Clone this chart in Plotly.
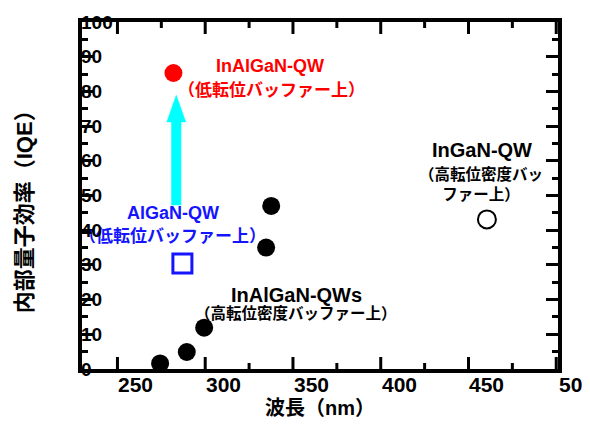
import plotly.graph_objects as go

# ---- data ----
inalgan_high_x = [263.8, 279.0, 288.9, 324.2, 327.1]
inalgan_high_y = [1.6, 4.9, 11.9, 35.0, 47.0]
inalgan_low_x = [271.4]
inalgan_low_y = [85.3]
algan_low_x = [276.5]
algan_low_y = [30.4]
ingan_x = [450.0]
ingan_y = [43.1]

arrow_x = 273.0
arrow_y_start = 47.2
arrow_y_head = 71.2
arrow_y_tip = 78.9

x_tick_vals = [250, 300, 350, 400, 450, 500]
x_tick_text = ["250", "300", "350", "400", "450", "50"]
x_tick_marks = [239.5, 289.5, 339.5, 389.5, 439.5, 489.5]
x_minor_marks = [264.5, 314.5, 364.5, 414.5, 464.5]
y_tick_vals = [0, 10, 20, 30, 40, 50, 60, 70, 80, 90, 100]
y_tick_text = [str(v) for v in y_tick_vals]

x_range = [219.3, 490.5]
y_range = [0, 100]

FONT = "Liberation Sans, Arial, Noto Sans CJK JP, sans-serif"
BLUE = "#1414ff"
RED = "#ff0000"
CYAN = "#00ffff"

W, H = 590, 426
M = dict(l=82, r=32, t=22, b=57)
PLOT_H = H - M["t"] - M["b"]

fig = go.Figure()

# arrow: shaft + head
head_half = 5.4
fig.add_trace(go.Scatter(x=[arrow_x, arrow_x], y=[arrow_y_start, arrow_y_head + 0.5],
                         mode="lines", line=dict(color=CYAN, width=10),
                         hoverinfo="skip", showlegend=False))
fig.add_trace(go.Scatter(x=[arrow_x - head_half, arrow_x + head_half, arrow_x, arrow_x - head_half],
                         y=[arrow_y_head, arrow_y_head, arrow_y_tip, arrow_y_head],
                         mode="lines", fill="toself", fillcolor=CYAN,
                         line=dict(color=CYAN, width=0.5),
                         hoverinfo="skip", showlegend=False))

fig.add_trace(go.Scatter(x=inalgan_high_x, y=inalgan_high_y, mode="markers",
                         marker=dict(symbol="circle", size=18, color="black"),
                         showlegend=False))
fig.add_trace(go.Scatter(x=inalgan_low_x, y=inalgan_low_y, mode="markers",
                         marker=dict(symbol="circle", size=18, color=RED),
                         showlegend=False))
fig.add_trace(go.Scatter(x=algan_low_x, y=algan_low_y, mode="markers",
                         marker=dict(symbol="square-open", size=19, color=BLUE,
                                     line=dict(width=3, color=BLUE)),
                         showlegend=False))
fig.add_trace(go.Scatter(x=ingan_x, y=ingan_y, mode="markers",
                         marker=dict(symbol="circle-open", size=18, color="black",
                                     line=dict(width=2, color="black")),
                         showlegend=False))

annotations = [
    dict(x=326.5, y=87.2, text="InAlGaN-QW", font=dict(size=18, color=RED)),
    dict(x=327.3, y=80.3, text="（低転位バッファー上）", font=dict(size=17, color=RED)),
    dict(x=270.9, y=45.0, text="AlGaN-QW", font=dict(size=18, color=BLUE)),
    dict(x=270.9, y=38.2, text="（低転位バッファー上）", font=dict(size=17, color=BLUE)),
    dict(x=341.6, y=21.4, text="InAlGaN-QWs", font=dict(size=20, color="black")),
    dict(x=341.3, y=16.2, text="（高転位密度バッファー上）", font=dict(size=15.5, color="black")),
    dict(x=447.0, y=63.2, text="InGaN-QW", font=dict(size=20, color="black")),
    dict(x=446.5, y=53.3, text="（高転位密度バッ<br>ファー上）", font=dict(size=15.5, color="black")),
]
for a in annotations:
    a.update(xref="x", yref="y", showarrow=False, xanchor="center", yanchor="middle")
    a["font"]["family"] = FONT
    a["font"]["weight"] = "bold"

# x tick labels (offset from the tick marks, as in the reference); the last one is
# clipped to "50" at the right edge, so it is left-aligned where "500" would start
span = x_range[1] - x_range[0]
for v, t in zip(x_tick_vals, x_tick_text):
    short = len(t) < 3
    annotations.append(dict(xref="paper", yref="paper", x=(v - x_range[0]) / span, y=0,
                            yshift=-15.5, xshift=-18 if short else 0, text=t, showarrow=False,
                            xanchor="left" if short else "center", yanchor="middle",
                            font=dict(size=21, color="black", family=FONT, weight="bold")))

# y tick labels: left-aligned, lying over the left axis line as in the reference
for v, t in zip(y_tick_vals, y_tick_text):
    annotations.append(dict(xref="paper", yref="y", x=0, y=v, xshift=-3,
                            text=t, showarrow=False, xanchor="left", yanchor="middle",
                            font=dict(size=19, color="black", family=FONT, weight="bold")))

# axis titles
annotations.append(dict(xref="paper", yref="paper", x=0.5, y=0, yshift=-39,
                        text="波長（nm）", showarrow=False, xanchor="center", yanchor="middle",
                        font=dict(size=20, color="black", family=FONT, weight="bold")))
annotations.append(dict(xref="paper", yref="paper", x=0, y=0.469, xshift=-58,
                        text="内部量子効率（IQE）", textangle=-90, showarrow=False,
                        xanchor="center", yanchor="middle",
                        font=dict(size=22, color="black", family=FONT, weight="bold")))

# x-axis tick marks (inside, bottom and top), positioned through the x axis
shapes = []
for marks, tl in ((x_tick_marks, 12), (x_minor_marks, 6)):
    frac = tl / PLOT_H
    for v in marks:
        for base, sign in ((0, 1), (1, -1)):
            shapes.append(dict(type="line", xref="x", yref="paper", x0=v, x1=v,
                               y0=base, y1=base + sign * frac,
                               line=dict(color="black", width=3), layer="above"))

fig.update_layout(
    width=W, height=H,
    margin=M,
    paper_bgcolor="white", plot_bgcolor="white",
    font=dict(family=FONT, color="black", weight="bold"),
    annotations=annotations,
    shapes=shapes,
    xaxis=dict(range=x_range, showticklabels=False, ticks="",
               showline=True, linewidth=3.5, linecolor="black",
               mirror=True, showgrid=False, zeroline=False),
    yaxis=dict(range=y_range, tickmode="array", tickvals=y_tick_vals,
               ticktext=[""] * len(y_tick_vals),
               ticks="inside", ticklen=12, tickwidth=3, tickcolor="black",
               showline=True, linewidth=3.5, linecolor="black", mirror="allticks",
               showgrid=False, zeroline=False,
               minor=dict(ticks="inside", ticklen=6, tickwidth=3, tickcolor="black", dtick=5),
               tickfont=dict(size=10, family=FONT, color="black")),
)

fig.write_html("out.html")
